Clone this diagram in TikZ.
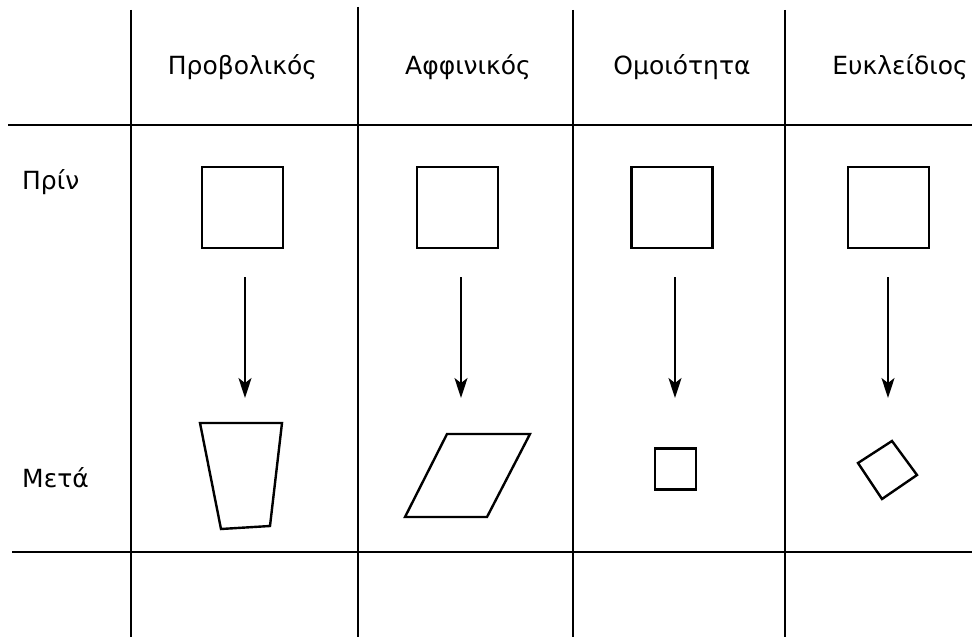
\documentclass[tikz,border=0pt]{standalone}
\usepackage{fontspec}
\setmainfont{DejaVu Sans}
\usetikzlibrary{arrows.meta}
\begin{document}
\begin{tikzpicture}[x=1pt,y=-1pt,
  grid/.style={line width=1.4pt},
  shp/.style={line width=2.4pt,line join=miter},
  sq/.style={draw,line width=2.4pt,minimum size=81pt,inner sep=0pt},
  lbl/.style={font=\fontsize{25}{25}\selectfont,inner sep=0pt,anchor=base},
  arr/.style={line width=1.8pt,-{Stealth[length=20pt,width=13pt,inset=5pt]}}]
\useasboundingbox (0,0) rectangle (972,639);
% grid
\foreach \x/\t in {131/10,358/7,573/10,785/10}{
  \draw[grid] (\x,\t) -- (\x,637);
}
\draw[grid] (8,125) -- (972,125);
\draw[grid] (12,552) -- (972,552);
% headers
\node[lbl] (h1) at (242.5,75) {Προβολικός};
\node[lbl] (h2) at (468,75) {Αφφινικός};
\node[lbl] (h3) at (682,75) {Ομοιότητα};
\node[lbl] (h4) at (900,75) {Ευκλείδιος};
\node[lbl,anchor=base west] (r1) at (22,190) {Πρίν};
\node[lbl,anchor=base west] (r2) at (22,487) {Μετά};
% before squares
\node[sq] (b1) at (242.5,207.5) {};
\node[sq] (b2) at (457.5,207.5) {};
\node[sq] (b3) at (672,207.5) {};
\node[sq] (b4) at (888.5,207.5) {};
% arrows
\coordinate (s1) at (245,277); \coordinate (e1) at (245,398);
\coordinate (s2) at (461,277); \coordinate (e2) at (461,398);
\coordinate (s3) at (675,277); \coordinate (e3) at (675,398);
\coordinate (s4) at (888,277); \coordinate (e4) at (888,398);
\foreach \i in {1,2,3,4}{\draw[arr] (s\i) -- (e\i);}
% after shapes
\draw[shp] (200,423) -- (282,423) -- (270,526) -- (221,529) -- cycle;
\draw[shp] (447,434) -- (530,434) -- (487,517) -- (405,517) -- cycle;
\node[sq,minimum size=41pt] (a3) at (675.5,469) {};
\draw[shp] (892,441) -- (917,475) -- (882,499) -- (858,463) -- cycle;
\end{tikzpicture}
\end{document}
